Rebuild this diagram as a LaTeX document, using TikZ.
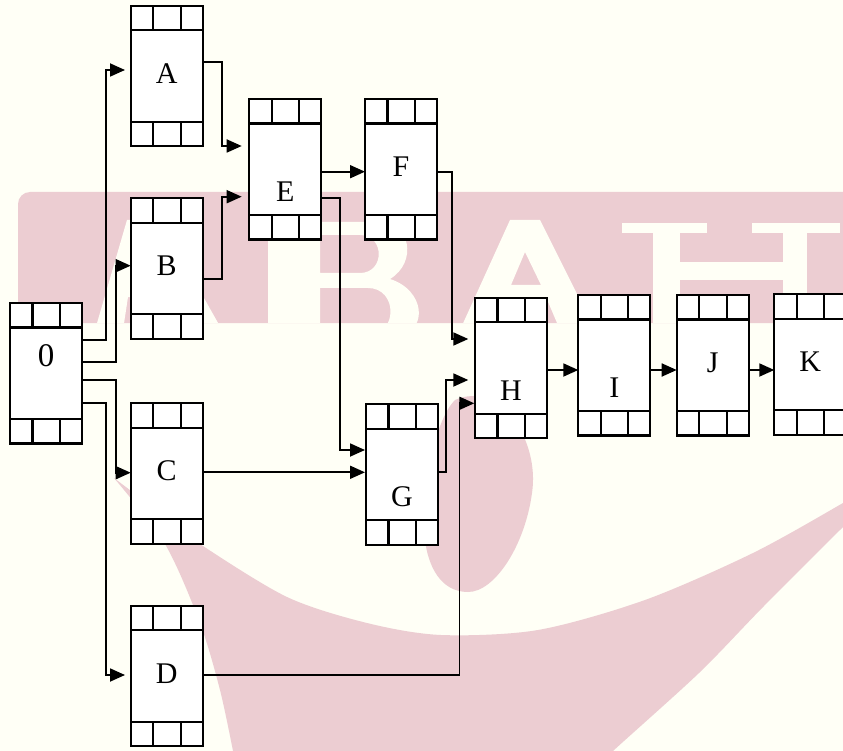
\documentclass[tikz,border=0pt]{standalone}
\usepackage{fontspec}
\setmainfont{Liberation Serif}
\usetikzlibrary{arrows.meta,calc}
\definecolor{bgc}{RGB}{255,255,246}
\definecolor{wmc}{RGB}{236,205,210}
\tikzset{
  actbox/.style={draw, line width=2.2pt, fill=white, minimum width=72pt,
    minimum height=140.5pt, inner sep=0pt, outer sep=0pt},
  cell/.style={line width=2.2pt},
  lbl/.style={inner sep=0pt, font=\fontsize{30}{32}\selectfont},
  conn/.style={line width=1.8pt, -{Triangle[length=15pt,width=13pt]}},
  wm/.style={fill=wmc},
}
\newcommand{\mkbox}[5]{%
  \node[actbox, anchor=north west] (#1) at (#2,#3) {};
  \draw[cell] ($(#1.north west)+(0,24.5)$) -- ($(#1.north east)+(0,24.5)$)
    ($(#1.south west)+(0,-24.5)$) -- ($(#1.south east)+(0,-24.5)$)
    ($(#1.north west)+(22.5,0)$) -- ++(0,24.5)
    ($(#1.north west)+(50,0)$) -- ++(0,24.5)
    ($(#1.south west)+(22.5,0)$) -- ++(0,-24.5)
    ($(#1.south west)+(50,0)$) -- ++(0,-24.5);
  \node[lbl, anchor=base] (#1-lbl) at ($(#1.north)+(0,#5)$) {#4};
}
\begin{document}
\begin{tikzpicture}[x=1pt,y=-1pt]
\path[use as bounding box] (0,0) rectangle (843,751);
\clip (0,0) rectangle (843,751);
\fill[bgc] (0,0) rectangle (843,751);
% watermark band
\fill[wm, rounded corners=12pt] (18,192) rectangle (860,323);
\begin{scope}
  \clip[rounded corners=12pt] (18,192) rectangle (860,323);
  % A
  \fill[bgc, even odd rule] (95,330) -- (127,220) -- (160,220) -- (222,330) -- cycle
    (143,252) -- (131,285) -- (158,285) -- cycle
    (128,297) -- (170,297) -- (185,330) -- (123,330) -- cycle;
  % B
  \fill[bgc, even odd rule] (268,222) -- (380,222) .. controls (410,222) and (418,262) .. (390,279)
    .. controls (425,290) and (428,330) .. (400,335) -- (268,335) -- cycle
    (320,235) -- (360,235) .. controls (385,235) and (385,273) .. (360,273) -- (320,273) -- cycle
    (320,288) -- (368,288) .. controls (398,288) and (398,335) .. (368,335) -- (320,335) -- cycle;
  % A
  \fill[bgc, even odd rule] (460,330) -- (510,220) -- (540,220) -- (595,330) -- cycle
    (525,252) -- (511,285) -- (541,285) -- cycle
    (506,297) -- (546,297) -- (560,330) -- (492,330) -- cycle;
  % H
  \fill[bgc] (622,223) rectangle (707,233);
  \fill[bgc] (653,223) rectangle (680,330);
  \fill[bgc] (752,223) rectangle (840,233);
  \fill[bgc] (783,223) rectangle (807,330);
  \fill[bgc] (680,262) rectangle (783,280);
\end{scope}
% watermark swoosh
\fill[wm] plot[smooth] coordinates {(114,478) (160,513) (200,544) (287,597) (367,623) (441,635) (538,630) (645,600) (753,553) (843,503) (870,486)}
  -- (870,500) -- plot[smooth] coordinates {(843,527) (763,607) (699,673) (613,751) (600,765)}
  -- (236,765) -- plot[smooth] coordinates {(233,751) (220,690) (200,623) (165,544) (114,478)} -- cycle;
% watermark drop
\fill[wm] (455,400) .. controls (500,380) and (540,440) .. (532,493)
  .. controls (525,545) and (495,592) .. (468,592)
  .. controls (440,592) and (428,565) .. (425,540)
  .. controls (420,490) and (435,420) .. (455,400) -- cycle;
% boxes
\mkbox{Z}{10}{303}{\fontsize{33}{35}\selectfont 0}{63.5}
\mkbox{A}{130.7}{5.7}{A}{77.5}
\mkbox{B}{130.7}{198.3}{B}{77.5}
\mkbox{C}{130.7}{403.3}{C}{77.5}
\mkbox{D}{130.7}{605.7}{D}{77.5}
\mkbox{E}{249.3}{99}{E}{102.5}
\mkbox{F}{365}{99}{F}{77.5}
\mkbox{G}{366}{404.3}{G}{102.5}
\mkbox{H}{475}{297.7}{H}{102.5}
\mkbox{I}{578.3}{295}{I}{102.5}
\mkbox{J}{676.7}{295}{J}{77.5}
\mkbox{K}{774.3}{294.3}{K}{77.5}
% connectors
\draw[conn] ($(Z.north east)+(0,37)$) -- ++(24,0) |- ($(A.north west)+(-5.7,64.3)$);
\draw[conn] ($(Z.north east)+(0,59.3)$) -- ++(33.7,0) |- ($(B.north west)+(0,67.4)$);
\draw[conn] ($(Z.north east)+(0,77)$) -- ++(33.7,0) |- ($(C.north west)+(0,69.4)$);
\draw[conn] ($(Z.north east)+(0,100.3)$) -- ++(24,0) |- ($(D.north west)+(-5.7,69.3)$);
\draw[conn] ($(A.north east)+(0,56)$) -- ++(19.6,0) |- ($(E.north west)+(-7.6,47)$);
\draw[conn] ($(B.north east)+(0,81)$) -- ++(19.6,0) |- ($(E.north west)+(-7.6,97.7)$);
\draw[conn] ($(E.north east)+(0,72.7)$) -- ($(F.north west)+(0,72.7)$);
\draw[conn] ($(E.north east)+(0,99.3)$) -- ++(19,0) |- ($(G.north west)+(-1,45.7)$);
\draw[conn] ($(F.north east)+(0,72.7)$) -- ++(14.7,0) |- ($(H.north west)+(-6.7,41.3)$);
\draw[conn] ($(C.north east)+(0,69)$) -- ($(G.north west)+(-1,68)$);
\draw[conn] ($(G.north east)+(0,68)$) -- ++(8,0) |- ($(H.north west)+(-6.7,82.3)$);
\draw[conn] ($(D.north east)+(0,69.3)$) -- ++(256.8,0) |- ($(H.north west)+(-0.7,105.6)$);
\draw[conn] ($(H.north east)+(0,72.3)$) -- ($(I.north west)+(0,75)$);
\draw[conn] ($(I.north east)+(0,75)$) -- ($(J.north west)+(0,75)$);
\draw[conn] ($(J.north east)+(0,75)$) -- ($(K.north west)+(0,75.7)$);
\end{tikzpicture}
\end{document}
